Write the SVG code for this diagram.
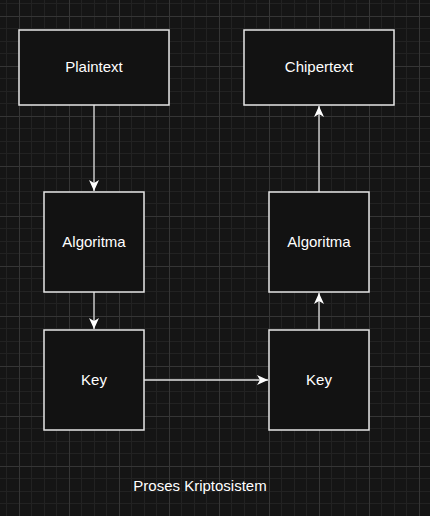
<svg xmlns="http://www.w3.org/2000/svg" width="430" height="516" viewBox="0 0 430 516">
  <defs>
    <pattern id="grid" width="50" height="50" patternUnits="userSpaceOnUse" x="19" y="16">
      <rect x="0" y="0" width="50" height="50" fill="#151515"/>
      <g fill="#222222">
        <rect x="12" y="0" width="1" height="50"/>
        <rect x="25" y="0" width="1" height="50"/>
        <rect x="37" y="0" width="1" height="50"/>
        <rect x="0" y="12" width="50" height="1"/>
        <rect x="0" y="25" width="50" height="1"/>
        <rect x="0" y="37" width="50" height="1"/>
      </g>
      <g fill="#353535">
        <rect x="0" y="0" width="1" height="50"/>
        <rect x="0" y="0" width="50" height="1"/>
      </g>
    </pattern>
    <marker id="arrow" viewBox="0 0 11 10" refX="11" refY="5" markerWidth="11" markerHeight="10" markerUnits="userSpaceOnUse" orient="auto">
      <path d="M0,0 L11,5 L0,10 L3,5 Z" fill="#ffffff"/>
    </marker>
    <style>
      .box { fill: #121212; stroke: #e6e6e6; stroke-width: 1.5; }
      .label { font-family: "Liberation Sans", Arial, sans-serif; font-size: 15px; fill: #ffffff; text-anchor: middle; }
      .edge { stroke: #e0e0e0; stroke-width: 1.3; fill: none; marker-end: url(#arrow); }
    </style>
  </defs>
  <rect x="0" y="0" width="430" height="516" fill="url(#grid)"/>

  <g id="connectors">
    <line class="edge" x1="94" y1="105" x2="94" y2="191"/>
    <line class="edge" x1="94" y1="292" x2="94" y2="329"/>
    <line class="edge" x1="144" y1="380" x2="268" y2="380"/>
    <line class="edge" x1="319" y1="330" x2="319" y2="293"/>
    <line class="edge" x1="319" y1="192" x2="319" y2="106"/>
  </g>

  <g id="plaintext">
    <rect class="box" x="19" y="30" width="150" height="75"/>
    <text class="label" x="94" y="72">Plaintext</text>
  </g>
  <g id="algoritma-left">
    <rect class="box" x="44" y="192" width="100" height="100"/>
    <text class="label" x="94" y="247">Algoritma</text>
  </g>
  <g id="key-left">
    <rect class="box" x="44" y="330" width="100" height="100"/>
    <text class="label" x="94" y="385">Key</text>
  </g>
  <g id="chipertext">
    <rect class="box" x="244" y="30" width="150" height="75"/>
    <text class="label" x="319" y="72">Chipertext</text>
  </g>
  <g id="algoritma-right">
    <rect class="box" x="269" y="192" width="100" height="100"/>
    <text class="label" x="319" y="247">Algoritma</text>
  </g>
  <g id="key-right">
    <rect class="box" x="269" y="330" width="100" height="100"/>
    <text class="label" x="319" y="385">Key</text>
  </g>
  <g id="caption">
    <text class="label" x="200" y="491">Proses Kriptosistem</text>
  </g>
</svg>
